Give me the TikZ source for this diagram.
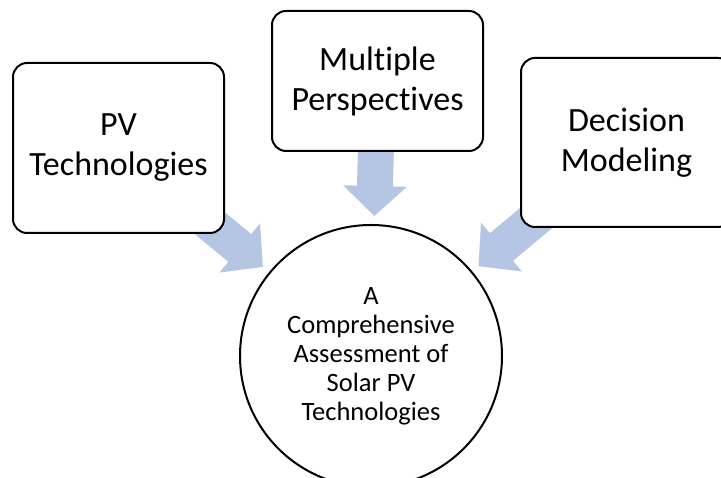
\documentclass[tikz,border=0pt]{standalone}
\usepackage{fontspec}
\setmainfont{Carlito}[Ligatures=NoCommon]
\usetikzlibrary{arrows.meta,calc,backgrounds}
\definecolor{arrowblue}{RGB}{180,198,228}
\tikzset{
  topic/.style={draw, line width=2pt, fill=white, rounded corners=14pt, minimum width=211pt, align=center, font=\fontsize{34}{40}\selectfont},
  goal/.style={draw, circle, line width=2pt, fill=white, minimum size=262pt, inner sep=0pt, align=center, font=\fontsize{26.5}{29}\selectfont},
  bigarrow/.style={arrowblue, line width=36pt, -{Triangle[length=30pt,width=62pt]}}
}
\begin{document}
\begin{tikzpicture}[x=1pt,y=1pt]
    \useasboundingbox (0,0) rectangle (721,478);
    \clip (0,0) rectangle (721,478);

    % Three input boxes
    \node [topic, minimum height=170pt] (pvtech) at (118.5,330) {PV\\Technologies};
    \node [topic, minimum height=140pt] (persp) at (377.5,397) {Multiple\\Perspectives};
    \node [topic, minimum height=169pt] (decmod) at (626.5,335.5) {Decision\\Modeling};

    % Central circle
    \node [goal] (assess) at (371,122) {A\\Comprehensive\\Assessment of\\Solar PV\\Technologies};

    % Block arrows into the circle
    \begin{scope}[on background layer]
        \draw [bigarrow] (pvtech.center) -- ($(assess.center)!140pt!(pvtech.center)$);
        \draw [bigarrow] (persp.center) -- ($(assess.center)!140pt!(persp.center)$);
        \draw [bigarrow] (decmod.center) -- ($(assess.center)!140pt!(decmod.center)$);
    \end{scope}
\end{tikzpicture}
\end{document}
